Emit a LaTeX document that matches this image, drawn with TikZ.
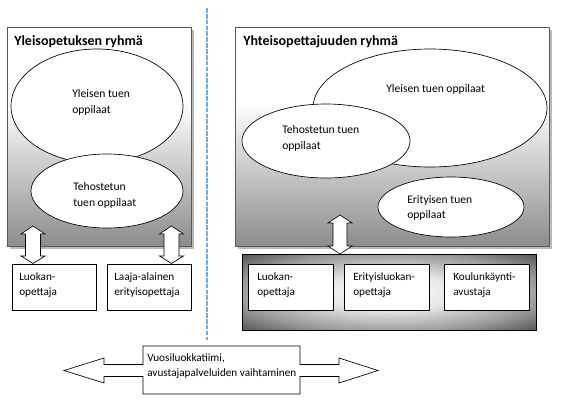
\documentclass[tikz,border=0pt]{standalone}
\usepackage{fontspec}
\setmainfont{Carlito}
\usetikzlibrary{shapes.geometric,shadows}
\definecolor{gbot}{HTML}{8C8C8C}
\definecolor{dashblue}{HTML}{74AEDD}
\definecolor{glowmid}{HTML}{999999}
\definecolor{glowout}{HTML}{585858}
\pgfdeclareverticalshading{grpshade}{100bp}{color(0bp)=(gbot); color(25bp)=(gbot); color(58bp)=(white); color(100bp)=(white)}
\pgfdeclareradialshading{glowshade}{\pgfpoint{0bp}{0bp}}{color(0bp)=(white); color(12bp)=(white!90!black); color(26bp)=(glowmid); color(35bp)=(glowout); color(50bp)=(glowout)}
\begin{document}
\begin{tikzpicture}[x=0.75pt,y=-0.75pt,
  grpbox/.style={draw=black!65, line width=0.5pt, shade, shading=grpshade, anchor=north west, inner sep=0,
    drop shadow={shadow xshift=1.8pt, shadow yshift=-1.8pt, opacity=0.5, fill=black!55}},
  ell/.style={ellipse, draw, fill=white, inner sep=0, line width=0.5pt},
  tbox/.style={draw, fill=white, anchor=north west, inner sep=0, minimum width=63pt, minimum height=34.5pt, line width=0.6pt},
  txt/.style={anchor=base west, inner sep=0, font=\fontsize{8.4}{10}\selectfont},
  etxt/.style={anchor=base west, inner sep=0, font=\fontsize{8.7}{10}\selectfont},
  ttl/.style={anchor=base west, inner sep=0, font=\fontsize{10.5}{12}\selectfont\bfseries},
  arr/.style={draw, fill=white, line width=0.5pt, line join=miter},
  dashline/.style={draw=dashblue, line width=1.6pt, dash pattern=on 3.5pt off 0.9pt}]
\useasboundingbox (0,0) rectangle (564,415);

% separator
\coordinate (sepTop) at (207,8);
\coordinate (sepBot) at (207,340);
\draw[dashline] (sepTop) -- (sepBot);

% group boxes
\node[grpbox, minimum width=138pt, minimum height=164.25pt] (gL) at (7,27) {};
\node[grpbox, minimum width=235.5pt, minimum height=164.25pt] (gR) at (235,27) {};
\node[ttl] (tL) at (14,45) {Yleisopetuksen ryhmä};
\node[ttl] (tR) at (243,45) {Yhteisopettajuuden ryhmä};

% left ellipses
\node[ell, minimum width=129pt, minimum height=85.5pt] (eL1) at (97,106) {};
\node[etxt] (eL1a) at (72,97) {Yleisen tuen};
\node[etxt] (eL1b) at (72,113) {oppilaat};
\node[ell, minimum width=114pt, minimum height=55.5pt] (eL2) at (107,191) {};
\node[etxt] (eL2a) at (73,190) {Tehostetun};
\node[etxt] (eL2b) at (73,206) {tuen oppilaat};

% right ellipses
\node[ell, minimum width=175.5pt, minimum height=88.5pt] (eR1) at (430,108) {};
\node[etxt] (eR1a) at (386,92) {Yleisen tuen oppilaat};
\node[ell, minimum width=126pt, minimum height=55.5pt] (eR2) at (326,141) {};
\node[etxt] (eR2a) at (282,133) {Tehostetun tuen};
\node[etxt] (eR2b) at (282,149) {oppilaat};
\node[ell, minimum width=109.5pt, minimum height=45pt] (eR3) at (451,207) {};
\node[etxt] (eR3a) at (407,203) {Erityisen tuen};
\node[etxt] (eR3b) at (407,218) {oppilaat};

% left teacher boxes
\node[tbox] (bL1) at (12,264) {};
\node[txt] (bL1a) at (19,280) {Luokan-};
\node[txt] (bL1b) at (19,295) {opettaja};
\node[tbox] (bL2) at (107,264) {};
\node[txt] (bL2a) at (114,280) {Laaja-alainen};
\node[txt] (bL2b) at (114,295) {erityisopettaja};

% right container
\node[draw=black, line width=0.6pt, shade, shading=glowshade, anchor=north west, inner sep=0,
  minimum width=220.5pt, minimum height=57pt] (cont) at (242,254) {};
\node[tbox, minimum width=63.75pt] (bR1) at (248,264) {};
\node[txt] (bR1a) at (257,280) {Luokan-};
\node[txt] (bR1b) at (257,295) {opettaja};
\node[tbox, minimum width=63.75pt] (bR2) at (344,264) {};
\node[txt] (bR2a) at (353,280) {Erityisluokan-};
\node[txt] (bR2b) at (353,295) {opettaja};
\node[tbox, minimum width=63.75pt] (bR3) at (444,264) {};
\node[txt] (bR3a) at (453,280) {Koulunkäynti-};
\node[txt] (bR3b) at (453,295) {avustaja};

% vertical double arrows
\draw[arr] (33,226) -- (45,234) -- (40.5,234) -- (40.5,256) -- (45,256) -- (33,263.5)
  -- (21,256) -- (25.5,256) -- (25.5,234) -- (21,234) -- cycle;
\draw[arr] (171.5,226) -- (183.5,234) -- (179,234) -- (179,256) -- (183.5,256) -- (171.5,263.5)
  -- (159.5,256) -- (164,256) -- (164,234) -- (159.5,234) -- cycle;
\draw[arr] (340,215) -- (352,223) -- (347,223) -- (347,246) -- (352,246) -- (340,254)
  -- (328,246) -- (333,246) -- (333,223) -- (328,223) -- cycle;

% bottom left-right arrow callout
\draw[arr] (143,346) -- (300,346) -- (300,364.5) -- (339,364.5) -- (339,358) -- (378,370.5)
  -- (339,383) -- (339,376.5) -- (300,376.5) -- (300,394) -- (143,394) -- (143,376.5)
  -- (104,376.5) -- (104,383) -- (64,370.5) -- (104,358) -- (104,364.5) -- (143,364.5) -- cycle;
\node[txt] (vA) at (147,361) {Vuosiluokkatiimi,};
\node[txt] (vB) at (147,376) {avustajapalveluiden vaihtaminen};
\end{tikzpicture}
\end{document}
